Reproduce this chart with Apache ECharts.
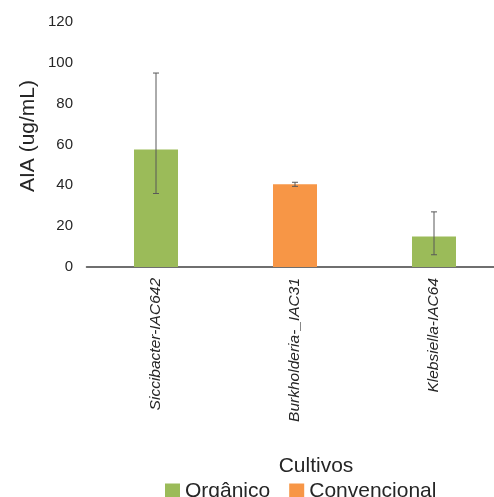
<!DOCTYPE html>
<html><head><meta charset="utf-8">
<script src="https://cdn.jsdelivr.net/npm/echarts@6/dist/echarts.min.js"></script>
<style>html,body{margin:0;padding:0;background:#fff}#c{width:494px;height:497px}</style>
</head><body><div id="c"></div>
<script>
const categories = ['Siccibacter-IAC642', 'Burkholderia-_IAC31', 'Klebsiella-IAC64'];
const organico = [57.5, '-', 15];
const convencional = ['-', 40.5, '-'];
const errLow = [36, 39.5, 6];
const errHigh = [95, 41.5, 27];
const yTicks = [0, 20, 40, 60, 80, 100, 120];

const chart = echarts.init(document.getElementById('c'));
const font = 'Liberation Sans, Arial, sans-serif';
chart.setOption({
  animation: false,
  textStyle: {fontFamily: font},
  title: {text: 'Cultivos', left: 311, top: 451, textAlign: 'center',
    textStyle: {fontSize: 21, fontWeight: 'normal', color: '#262626', fontFamily: font}},
  legend: {
    data: ['Orgânico', 'Convencional'], left: 160, top: 474, itemWidth: 15, itemHeight: 15, itemGap: 19,
    textStyle: {fontSize: 21, lineHeight: 24, color: '#262626', fontFamily: font}, icon: 'rect'
  },
  graphic: [{type: 'text', x: 28, y: 136, rotation: Math.PI / 2,
    style: {text: 'AIA (ug/mL)', fontSize: 21, fontFamily: font, fill: '#262626',
      align: 'center', verticalAlign: 'middle'}}],
  grid: {left: 86.5, width: 417, top: 22, bottom: 230, containLabel: false, outerBoundsMode: 'none'},
  xAxis: {
    type: 'category', data: categories,
    axisLine: {lineStyle: {color: '#404040', width: 1.5}},
    axisTick: {show: false},
    axisLabel: {rotate: 90, fontStyle: 'italic', fontSize: 15.5, color: '#262626', margin: 11, fontFamily: font}
  },
  yAxis: {
    type: 'value', min: 0, max: 120, interval: 20,
    axisLine: {show: false}, axisTick: {show: false}, splitLine: {show: false},
    axisLabel: {fontSize: 15, color: '#262626', margin: 13.5, fontFamily: font,
      formatter: v => yTicks.includes(v) ? String(v) : ''}
  },
  series: [
    {name: 'Orgânico', type: 'bar', data: organico, barWidth: 44, barGap: '-100%',
      itemStyle: {color: '#9bbb59'}},
    {name: 'Convencional', type: 'bar', data: convencional, barWidth: 44,
      itemStyle: {color: '#f79646'}},
    {type: 'custom', name: 'err', z: 10,
      data: categories.map((c, i) => [i, errLow[i], errHigh[i]]),
      renderItem: (params, api) => {
        const lo = api.coord([api.value(0), api.value(1)]);
        const hi = api.coord([api.value(0), api.value(2)]);
        const x = lo[0], w = 3;
        const st = {stroke: '#595959', lineWidth: 1};
        return {type: 'group', children: [
          {type: 'line', shape: {x1: x, y1: lo[1], x2: x, y2: hi[1]}, style: st},
          {type: 'line', shape: {x1: x - w, y1: lo[1], x2: x + w, y2: lo[1]}, style: st},
          {type: 'line', shape: {x1: x - w, y1: hi[1], x2: x + w, y2: hi[1]}, style: st}
        ]};
      }}
  ]
});
</script></body></html>
